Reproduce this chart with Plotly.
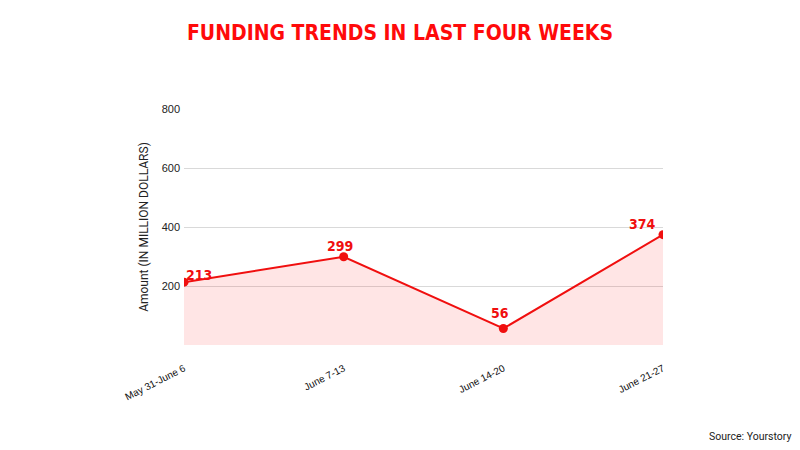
import plotly.graph_objects as go

weeks = ["May 31-June 6", "June 7-13", "June 14-20", "June 21-27"]
amounts = [213, 299, 56, 374]
y_ticks = [200, 400, 600, 800]

# label placement relative to each point (anchor, x offset px, y offset px)
label_anchor = ["left", "center", "center", "right"]
label_dx = [0, -4, -3, -5]
label_dy = [-3, 1, 5, 1]

RED = "#f00f0f"
COND = "DejaVu Sans Condensed, sans-serif"

fig = go.Figure()
fig.add_trace(go.Scatter(
    x=weeks, y=amounts,
    mode="lines+markers",
    line=dict(color=RED, width=2),
    marker=dict(color=RED, size=9),
    fill="tozeroy",
    fillcolor="rgba(255,40,40,0.12)",
    cliponaxis=True,
    showlegend=False,
))

annotations = []
for w, v, a, dx, dy in zip(weeks, amounts, label_anchor, label_dx, label_dy):
    annotations.append(dict(
        x=w, y=v, xref="x", yref="y", text=str(v), showarrow=False,
        xanchor=a, yanchor="bottom", xshift=dx, yshift=dy,
        font=dict(family=COND, size=14, color=RED, weight="bold"),
    ))
annotations.append(dict(
    text="Source: Yourstory", xref="paper", yref="paper",
    x=1.0, y=0, xanchor="right", yanchor="middle",
    showarrow=False, xshift=130, yshift=-91,
    font=dict(family="Roboto", size=10.5, color="#222"),
))

fig.update_layout(
    width=800, height=450,
    margin=dict(l=184, r=137, t=109, b=105),
    paper_bgcolor="white", plot_bgcolor="white",
    title=dict(
        text="FUNDING TRENDS IN LAST FOUR WEEKS",
        x=0.5, xanchor="center", y=0.927, yanchor="middle",
        font=dict(family=COND, size=21, color="#ff0a0a", weight="bold"),
    ),
    xaxis=dict(
        showgrid=False, showline=False, zeroline=False,
        tickangle=-27, tickfont=dict(family="Liberation Sans, Arial", size=10, color="#111"),
        ticklabelstandoff=15,
        range=[0, 3], ticks="",
    ),
    yaxis=dict(
        range=[0, 800], tickvals=y_ticks,
        showgrid=True, gridcolor="#d9d9d9", gridwidth=1,
        zeroline=False, showline=False,
        tickfont=dict(family="Liberation Sans, Arial", size=11, color="#222"),
        ticklabelstandoff=3,
        title=dict(text="Amount (IN MILLION DOLLARS)", standoff=10,
                   font=dict(family="Roboto", size=12, color="#222")),
    ),
    annotations=annotations,
)

fig.write_html("out.html")
